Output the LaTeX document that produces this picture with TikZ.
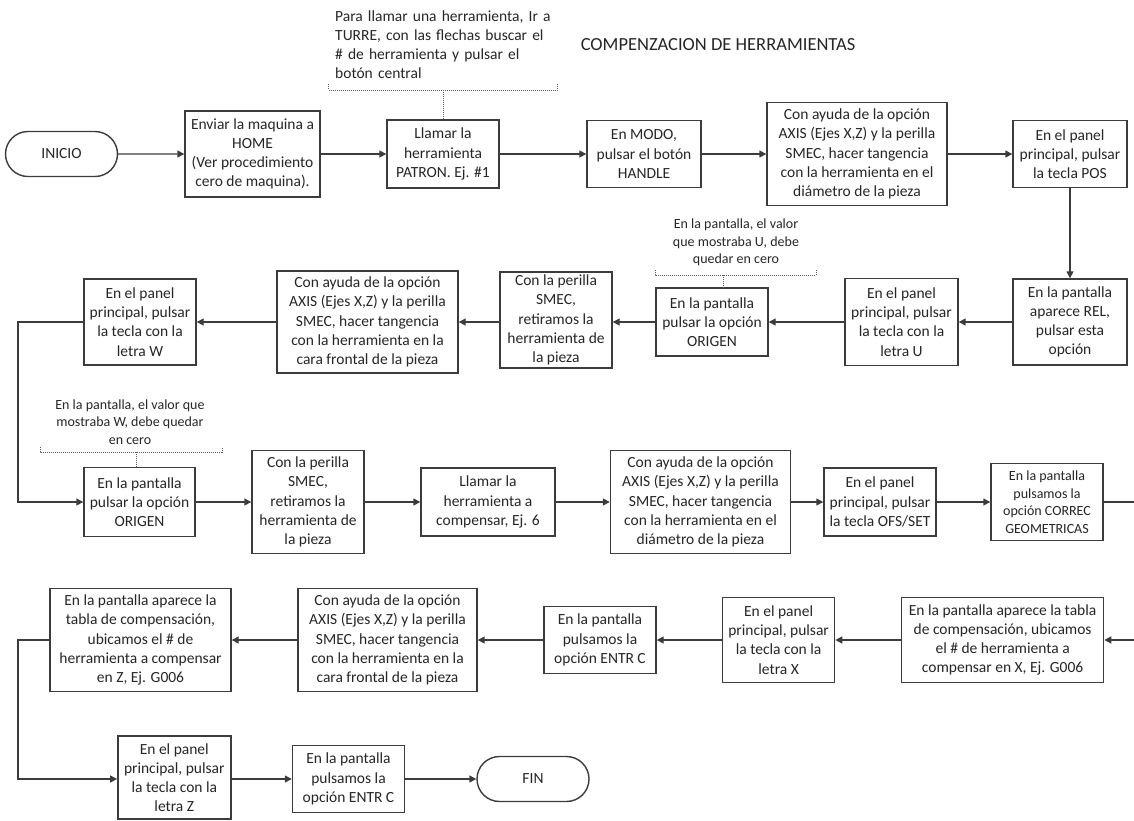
\documentclass[tikz,border=0pt]{standalone}
\usepackage{fontspec}
\setmainfont{Carlito}
\usetikzlibrary{arrows.meta,shapes.misc}

\definecolor{ink}{HTML}{262626}
\definecolor{edge}{HTML}{3C3C3C}
\definecolor{note}{HTML}{5A5A5A}

\tikzset{
  stepbox/.style={draw=edge, line width=1.4pt, fill=white, align=center,
    inner sep=0pt, text=ink, font=\fontsize{15.5}{19.2}\selectfont},
  sz/.style 2 args={minimum width=#1pt, minimum height=#2pt},
  termbox/.style={stepbox, rounded rectangle, sz={112}{45}},
  smalltext/.style={font=\fontsize{14}{17.5}\selectfont},
  flow/.style={draw=edge, line width=1.4pt, -{Triangle[length=7pt,width=7pt]}},
  link/.style={draw=edge, line width=1.4pt},
  notetext/.style={text=ink, inner sep=0pt},
  notebr/.style={draw=note, line width=1pt, dash pattern=on 1pt off 1pt},
}

\begin{document}
\begin{tikzpicture}[x=1pt,y=-1pt]
\useasboundingbox (0,0) rectangle (1134,820);

% title
\node[notetext, font=\fontsize{18.5}{22}\selectfont] (title) at (718,45) {COMPENZACION DE HERRAMIENTAS};

% return rail on the left edge
\coordinate (rail) at (18,0);

% ---------- row 1 ----------
\node[termbox] (ini) at (61.5,154) {INICIO};
\node[stepbox, sz={135}{86}] (home) at (252.5,154) {Enviar la maquina a\\HOME\\(Ver procedimiento\\cero de maquina).};
\node[stepbox, sz={112}{68}] (patron) at (443,154) {Llamar la\\herramienta\\PATRON. Ej. \#1};
\node[stepbox, sz={114}{67}] (modo) at (644,154) {En MODO,\\pulsar el botón\\HANDLE};
\node[stepbox, sz={180}{103}] (axisA) at (857,154) {Con ayuda de la opción\\AXIS (Ejes X,Z) y la perilla\\SMEC, hacer tangencia\\con la herramienta en el\\diámetro de la pieza};
\node[stepbox, sz={114}{67}] (pos) at (1070,154) {En el panel\\principal, pulsar\\la tecla POS};

% ---------- row 2 ----------
\node[stepbox, sz={114}{86}] (rel) at (1070,322) {En la pantalla\\aparece REL,\\pulsar esta\\opción};
\node[stepbox, sz={113}{87}] (ukey) at (901.5,322) {En el panel\\principal, pulsar\\la tecla con la\\letra U};
\node[stepbox, sz={112}{68}] (origA) at (712,322) {En la pantalla\\pulsar la opción\\ORIGEN};
\node[stepbox, sz={112}{96}] (perA) at (556,320) {Con la perilla\\SMEC,\\retiramos la\\herramienta de\\la pieza};
\node[stepbox, sz={181}{102}] (axisB) at (367.5,322) {Con ayuda de la opción\\AXIS (Ejes X,Z) y la perilla\\SMEC, hacer tangencia\\con la herramienta en la\\cara frontal de la pieza};
\node[stepbox, sz={112}{86}] (wkey) at (140,322) {En el panel\\principal, pulsar\\la tecla con la\\letra W};

% ---------- row 3 ----------
\node[stepbox, sz={111}{69}] (origB) at (139.5,502) {En la pantalla\\pulsar la opción\\ORIGEN};
\node[stepbox, sz={112}{103}] (perB) at (308,502) {Con la perilla\\SMEC,\\retiramos la\\herramienta de\\la pieza};
\node[stepbox, sz={134}{68}] (call) at (488,502) {Llamar la\\herramienta a\\compensar, Ej. 6};
\node[stepbox, sz={180}{103}] (axisC) at (700.5,502) {Con ayuda de la opción\\AXIS (Ejes X,Z) y la perilla\\SMEC, hacer tangencia\\con la herramienta en el\\diámetro de la pieza};
\node[stepbox, sz={112}{68}] (ofs) at (880,502) {En el panel\\principal, pulsar\\la tecla OFS/SET};
\node[stepbox, smalltext, sz={112}{77}] (correc) at (1047,502) {En la pantalla\\pulsamos la\\opción CORREC\\GEOMETRICAS};
\coordinate (rowCend) at (1134,502);

% ---------- row 4 ----------
\coordinate (rowDstart) at (1134,640);
\node[stepbox, sz={202}{85}] (tabX) at (1002.6,640) {En la pantalla aparece la tabla\\de compensación, ubicamos\\el \# de herramienta a\\compensar en X, Ej. G006};
\node[stepbox, sz={112}{85}] (xkey) at (778.6,640) {En el panel\\principal, pulsar\\la tecla con la\\letra X};
\node[stepbox, sz={112}{67}] (entrA) at (600,640) {En la pantalla\\pulsamos la\\opción ENTR C};
\node[stepbox, sz={179}{103}] (axisD) at (387.5,640) {Con ayuda de la opción\\AXIS (Ejes X,Z) y la perilla\\SMEC, hacer tangencia\\con la herramienta en la\\cara frontal de la pieza};
\node[stepbox, sz={181}{103}] (tabZ) at (140.5,640) {En la pantalla aparece la\\tabla de compensación,\\ubicamos el \# de\\herramienta a compensar\\en Z, Ej. G006};

% ---------- row 5 ----------
\node[stepbox, sz={113}{83}] (zkey) at (174.3,777.5) {En el panel\\principal, pulsar\\la tecla con la\\letra Z};
\node[stepbox, sz={112}{67}] (entrB) at (348.5,779) {En la pantalla\\pulsamos la\\opción ENTR C};
\node[termbox] (fin) at (533,779) {FIN};

% ---------- annotations ----------
\node[notetext, align=left, text width=230pt, anchor=west,
      font=\fontsize{15.5}{19.2}\selectfont] (noteA) at (335,44.5)
  {Para llamar una herramienta, Ir a\\TURRE, con las flechas buscar el\\\# de herramienta y pulsar el\\botón central};
\coordinate (noteAmid) at (443,90);
\draw[notebr] (328.5,84) -- (328.5,90) -- (557,90) -- (557,84);
\draw[notebr] (noteAmid) -- (patron.north);

\node[notetext, align=center, smalltext] (noteB) at (736,242.5)
  {En la pantalla, el valor\\que mostraba U, debe\\quedar en cero};
\coordinate (noteBmid) at (723,275);
\draw[notebr] (655,270) -- (655,275) -- (816,275) -- (816,270);
\draw[notebr] (noteBmid) -- (noteBmid |- origA.north);

\node[notetext, align=center, smalltext] (noteC) at (130,422)
  {En la pantalla, el valor que\\mostraba W, debe quedar\\en cero};
\coordinate (noteCmid) at (136,452);
\draw[notebr] (40,447) -- (40,452) -- (222,452) -- (222,447);
\draw[notebr] (noteCmid) -- (noteCmid |- origB.north);

% ---------- connectors ----------
\draw[flow] (ini) -- (home);
\draw[flow] (home) -- (patron);
\draw[flow] (patron) -- (modo);
\draw[flow] (modo) -- (axisA);
\draw[flow] (axisA) -- (pos);
\draw[flow] (pos) -- (rel);

\draw[flow] (rel) -- (ukey);
\draw[flow] (ukey) -- (origA);
\draw[flow] (origA) -- (perA.east |- origA);
\draw[flow] (perA.west |- axisB) -- (axisB);
\draw[flow] (axisB) -- (wkey);
\draw[flow] (wkey.west) -- (wkey.west -| rail) |- (origB.west);

\draw[flow] (origB) -- (perB);
\draw[flow] (perB) -- (call);
\draw[flow] (call) -- (axisC);
\draw[flow] (axisC) -- (ofs);
\draw[flow] (ofs) -- (correc);
\draw[link] (correc) -- (rowCend);

\draw[flow] (rowDstart) -- (tabX);
\draw[flow] (tabX) -- (xkey);
\draw[flow] (xkey) -- (entrA);
\draw[flow] (entrA) -- (axisD);
\draw[flow] (axisD) -- (tabZ);
\draw[flow] (tabZ.west) -- (tabZ.west -| rail) |- (zkey.west |- entrB);

\draw[flow] (zkey.east |- entrB) -- (entrB);
\draw[flow] (entrB) -- (fin);
\end{tikzpicture}
\end{document}
